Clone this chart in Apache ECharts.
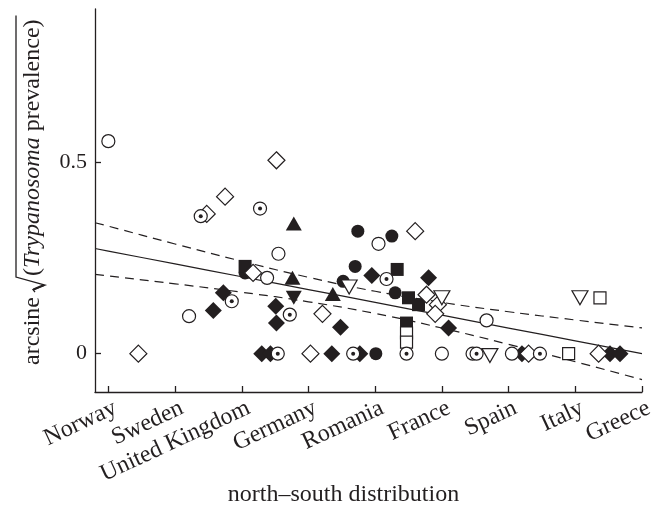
<!DOCTYPE html>
<html>
<head>
<meta charset="utf-8">
<script src="https://cdn.jsdelivr.net/npm/echarts@6/dist/echarts.min.js"></script>
<style>
html,body{margin:0;padding:0;background:#fff;}
#chart{width:662px;height:517px;}
</style>
</head>
<body>
<div id="chart"></div>
<script>
// ---- data (x: 0=Norway ... 8=Greece, y: arcsine sqrt prevalence) ----
var countries = ['Norway','Sweden','United Kingdom','Germany','Romania','France','Spain','Italy','Greece'];
var xTickValues = [0,1,2,3,4,5,6,7,8];
var yTickValues = [0, 0.5];
var yTickLabels = ['0', '0.5'];

var openCircle = [[0.0,0.555],[2.55,0.261],[2.38,0.198],[1.21,0.098],[4.05,0.287],[5.67,0.087],[5.0,0.0],[5.46,0.0],[6.05,0.0]];
var circleDot = [[1.385,0.359],[2.274,0.379],[1.85,0.137],[2.72,0.102],[2.54,0.0],[4.17,0.195],[3.67,0.0],[4.47,0.0],[5.52,0.0],[6.47,0.0]];
var openDiamond = [[2.52,0.505],[1.75,0.41],[1.475,0.365],[2.17,0.211],[0.45,0.0],[3.03,0.0],[4.6,0.32],[3.21,0.104],[4.77,0.154],[4.94,0.128],[4.90,0.104],[6.30,0.0],[7.35,0.0]];
var filledDiamond = [[1.724,0.159],[1.574,0.113],[2.51,0.124],[2.52,0.08],[2.30,0.0],[2.43,0.0],[3.95,0.204],[4.80,0.198],[5.10,0.067],[3.48,0.069],[3.35,0.0],[3.77,0.0],[6.20,0.0],[7.52,0.0],[7.67,0.0]];
var filledCircle = [[3.74,0.32],[4.25,0.307],[3.70,0.228],[3.52,0.189],[4.30,0.159],[4.01,0.0],[2.05,0.211]];
var filledSquare = [[2.05,0.228],[4.33,0.22],[4.50,0.146],[4.65,0.128],[4.47,0.08]];
var openSquare = [[4.47,0.054],[4.47,0.03],[6.90,0.0],[7.37,0.146]];
var filledTriUp = [[2.78,0.34],[2.76,0.198],[3.365,0.156]];
var filledTriDown = [[2.78,0.146]];
var openTriDown = [[3.61,0.174],[5.0,0.146],[5.72,-0.005],[7.07,0.146]];

// regression line and 95% band, read at these x positions
var fitX = [-0.2,0,1,2,3,4,5,6,7,8];
var fitY = [0.2747,0.268,0.2345,0.201,0.1675,0.134,0.1005,0.067,0.0335,0.0];
var bandUpper = [0.342,0.333,0.2865,0.2415,0.1995,0.163,0.134,0.1096,0.088,0.0675];
var bandLower = [0.207,0.203,0.1825,0.1605,0.1355,0.105,0.067,0.0244,-0.021,-0.0675];

// ---- chart ----
var INK = '#231f20';
var FONT = '"Liberation Serif", "Times New Roman", serif';
function pairs(xs, ys){ return xs.map(function(x,i){ return [x, ys[i]]; }); }

function lineSeries(data, dashed){
  return {type:'line', data:data, smooth:true, symbol:'none', silent:true, z:1,
    lineStyle:{color:INK, width:1.2, type: dashed ? [9,6] : 'solid'}};
}
function scatter(data, symbol, size, filled, extra){
  var s = {type:'scatter', data:data, symbol:symbol, symbolSize:size, z:2,
    itemStyle: filled ? {color:INK, borderWidth:0, opacity:1} : {color:'#fff', borderColor:INK, borderWidth:1.2, opacity:1}};
  if (extra) for (var k in extra) s[k] = extra[k];
  return s;
}

// y-axis title: rotated text "arcsine √(Trypanosoma prevalence)" with drawn radical sign
var TITLE_SIZE = 24;
var ctx = document.createElement('canvas').getContext('2d');
function fontOf(italic){ return (italic ? 'italic ' : '') + TITLE_SIZE + 'px ' + FONT; }
function textW(t, italic){ ctx.font = fontOf(italic); return ctx.measureText(t).width; }
function txt(t, italic, u){
  return {type:'text', x:u, y:0, silent:true,
    style:{text:t, font:fontOf(italic), fill:INK, textAlign:'left', textVerticalAlign:'middle', align:'left', verticalAlign:'middle'}};
}
var children = [];
var u = 0;
children.push(txt('arcsine ', false, u)); u += textW('arcsine ', false);
var radStart = u - 1;
var radW = 15;
u = radStart + radW + 1;
children.push(txt('(', false, u)); u += textW('(', false);
children.push(txt('Trypanosoma', true, u)); u += textW('Trypanosoma', true);
children.push(txt(' prevalence)', false, u)); u += textW(' prevalence)', false);
var barV = -17;
children.push({type:'polyline', silent:true,
  shape:{points:[[radStart, 2],[radStart+2.5, 0],[radStart+7, 12],[radStart+radW, barV],[u + 4, barV]]},
  style:{stroke:INK, lineWidth:1.3, fill:null, lineJoin:'miter'}});
children.push({type:'line', silent:true,
  shape:{x1:radStart+2.5, y1:0.5, x2:radStart+7, y2:11}, style:{stroke:INK, lineWidth:2.2}});

var chart = echarts.init(document.getElementById('chart'), null, {renderer:'canvas'});
chart.setOption({
  animation:false,
  backgroundColor:'#fff',
  grid:[
    {left:95, right:20, top:9, bottom:125, containLabel:false},
    // label-only grid, same scale, nudged right so label ends sit just past each tick
    {left:102, right:13, top:9, bottom:125, containLabel:false}
  ],
  xAxis:[{
    gridIndex:0, type:'value', min:-0.2, max:8,
    name:'north\u2013south distribution', nameLocation:'middle', nameGap:91,
    nameTextStyle:{fontFamily:FONT, fontSize:24, color:INK, padding:[0,50,0,0]},
    axisLine:{show:true, onZero:false, lineStyle:{color:INK, width:1.3}},
    axisTick:{show:true, inside:true, length:6, customValues:xTickValues, lineStyle:{color:INK, width:1.3}},
    axisLabel:{show:false},
    splitLine:{show:false}
  },{
    gridIndex:1, type:'value', min:-0.2, max:8,
    axisLine:{show:false, onZero:false}, axisTick:{show:false},
    axisLabel:{show:true, customValues:xTickValues, rotate:25, margin:15, fontFamily:FONT, fontSize:24, color:INK,
      formatter:function(v){ return countries[Math.round(v)]; }},
    splitLine:{show:false}
  }],
  yAxis:[{
    gridIndex:0, type:'value', min:-0.1, max:0.9,
    axisLine:{show:true, onZero:false, lineStyle:{color:INK, width:1.3}},
    axisTick:{show:true, inside:true, length:6, customValues:yTickValues, lineStyle:{color:INK, width:1.3}},
    axisLabel:{show:true, customValues:yTickValues, margin:8, fontFamily:FONT, fontSize:22, color:INK,
      formatter:function(v){ return yTickLabels[yTickValues.indexOf(v)] || ''; }},
    splitLine:{show:false}
  },{
    gridIndex:1, type:'value', min:-0.1, max:0.9, show:false
  }],
  graphic:[{type:'group', x:33, y:365, rotation:Math.PI/2, children:children}],
  series:[
    lineSeries(pairs(fitX, fitY), false),
    lineSeries(pairs(fitX, bandUpper), true),
    lineSeries(pairs(fitX, bandLower), true),
    scatter(filledDiamond, 'diamond', 17, true),
    scatter(filledCircle, 'circle', 13, true),
    scatter(filledSquare, 'rect', 13, true),
    scatter(filledTriUp, 'triangle', [16,14], true),
    scatter(filledTriDown, 'triangle', [16,14], true, {symbolRotate:180}),
    scatter(openDiamond, 'diamond', 17, false),
    scatter(openSquare, 'rect', 12, false),
    scatter(openTriDown, 'triangle', [16,14], false, {symbolRotate:180}),
    scatter(openCircle, 'circle', 13, false),
    scatter(circleDot, 'circle', 13, false),
    scatter(circleDot, 'circle', 4, true, {z:3})
  ]
});
</script>
</body>
</html>
